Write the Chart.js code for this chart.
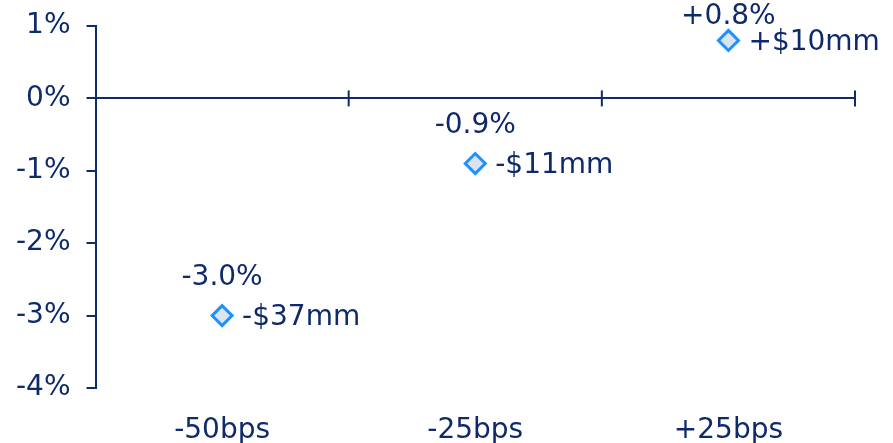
<!DOCTYPE html>
<html>
<head>
<meta charset="utf-8">
<script src="https://cdn.jsdelivr.net/npm/chart.js@4"></script>
<style>
  html, body { margin: 0; padding: 0; background: #fff; }
  #wrap { width: 893px; height: 443px; }
</style>
</head>
<body>
<div id="wrap"><canvas id="rateChart"></canvas></div>
<script>
const ctx = document.getElementById("rateChart").getContext("2d");

// data
const scenarios = ["-50bps", "-25bps", "+25bps"];
const pctChange = [-3.0, -0.9, 0.8];
const pctLabels = ["-3.0%", "-0.9%", "+0.8%"];
const dollarLabels = ["-$37mm", "-$11mm", "+$10mm"];
const yTicks = [1, 0, -1, -2, -3, -4];

const navy = "#0f2a6b";
const font = { family: "DejaVu Sans", size: 28 };

// zero line ticks + point labels
const extras = {
  id: "extras",
  afterDatasetsDraw(chart) {
    const c = chart.ctx;
    const x = chart.scales.x;
    const y = chart.scales.y;
    const y0 = y.getPixelForValue(0);
    c.save();
    c.strokeStyle = navy;
    c.lineWidth = 2;
    for (let i = 1; i <= scenarios.length; i++) {
      const px = x.getPixelForValue(i - 0.5);
      c.beginPath();
      c.moveTo(px, y0 - 8);
      c.lineTo(px, y0 + 8);
      c.stroke();
    }
    c.fillStyle = navy;
    c.font = font.size + "px " + font.family;
    c.textBaseline = "middle";
    chart.getDatasetMeta(0).data.forEach((pt, i) => {
      c.textAlign = "center";
      c.fillText(pctLabels[i], pt.x, Math.max(pt.y - 38, 17));
      c.textAlign = "left";
      c.fillText(dollarLabels[i], pt.x + 20, pt.y + 2);
    });
    c.restore();
  },
};

new Chart(ctx, {
  type: "line",
  data: {
    labels: scenarios,
    datasets: [
      {
        data: pctChange,
        showLine: false,
        pointStyle: "rectRot",
        pointRadius: 10,
        pointBorderWidth: 3,
        pointBorderColor: "#1e90ff",
        pointBackgroundColor: "#dbe3ee",
        clip: false,
      },
    ],
  },
  plugins: [extras],
  options: {
    responsive: true,
    maintainAspectRatio: false,
    animation: false,
    layout: {
      autoPadding: false,
      padding: { left: 0, right: 38, top: 26, bottom: 0 },
    },
    plugins: { legend: { display: false }, tooltip: { enabled: false } },
    scales: {
      x: {
        offset: true,
        grid: { display: false },
        border: { display: false },
        ticks: { color: navy, font: font, padding: 18 },
        afterFit(axis) {
          axis.height = 55;
        },
      },
      y: {
        min: -4,
        max: 1,
        afterBuildTicks(axis) {
          axis.ticks = yTicks.map((v) => ({ value: v }));
        },
        afterFit(axis) {
          axis.paddingTop = 0;
          axis.paddingBottom = 0;
        },
        border: { display: true, color: navy, width: 2 },
        grid: {
          drawOnChartArea: true,
          color: (c) => (c.tick && c.tick.value === 0 ? navy : "rgba(0,0,0,0)"),
          lineWidth: 2,
          tickColor: navy,
          tickLength: 9,
        },
        ticks: {
          color: navy,
          font: font,
          padding: 16,
          callback: (v) => v + "%",
        },
      },
    },
  },
});
</script>
</body>
</html>
